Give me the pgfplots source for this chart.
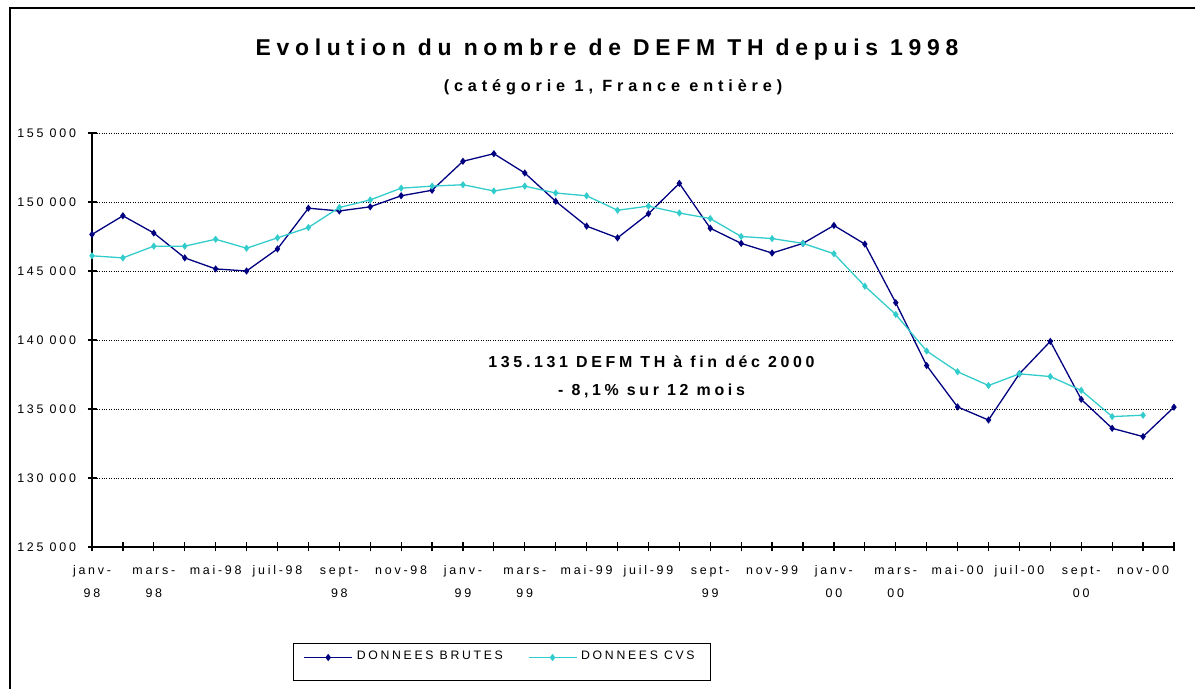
\documentclass[border=0pt]{standalone}
\usepackage{pgfplots}
\pgfplotsset{compat=1.18}
\usepackage{fontspec}
\setmainfont{Liberation Sans}
\newfontfamily\lsp[LetterSpace=22]{Liberation Sans}
\newfontfamily\asp[LetterSpace=23]{Liberation Sans}
\newfontfamily\ssp[LetterSpace=30]{Liberation Sans}
\newfontfamily\tsp[LetterSpace=25]{Liberation Sans}
\newcommand{\ph}{\vphantom{Ij}}
\definecolor{brut}{RGB}{0,0,128}
\definecolor{cvs}{RGB}{51,204,204}
\pgfplotstableread{
x y
0 147650
1 149000
2 147750
3 145950
4 145150
5 145000
6 146600
7 149550
8 149350
9 149650
10 150450
11 150850
12 152950
13 153500
14 152100
15 150050
16 148250
17 147400
18 149150
19 151350
20 148100
21 147000
22 146300
23 147000
24 148300
25 146950
26 142700
27 138150
28 135150
29 134200
30 137550
31 139900
32 135700
33 133600
34 133000
35 135131
}\brutes
\pgfplotstableread{
x y
0 146100
1 145950
2 146800
3 146800
4 147300
5 146650
6 147400
7 148150
8 149600
9 150150
10 151000
11 151150
12 151250
13 150800
14 151150
15 150650
16 150450
17 149400
18 149700
19 149200
20 148800
21 147500
22 147350
23 147000
24 146250
25 143900
26 141850
27 139200
28 137700
29 136700
30 137550
31 137350
32 136350
33 134450
34 134550
}\cvsdata
\begin{document}
\begin{tikzpicture}[x=1bp,y=1bp]
\useasboundingbox (0,0) rectangle (1195,689);
\draw[line width=1.2bp] (10,0) -- (10,681) -- (1195,681);
\node[font=\tsp\bfseries\fontsize{23}{27}\selectfont] at (607,639) {Evolution du nombre de DEFM TH depuis 1998};
\node[font=\ssp\bfseries\fontsize{16.3}{19}\selectfont] at (613,602) {(catégorie 1, France entière)};
\begin{axis}[
  at={(92bp,142bp)}, anchor=south west,
  width=1082bp, height=414bp, scale only axis,
  xmin=0, xmax=35, ymin=125000, ymax=155000,
  clip=false, scaled y ticks=false,
  axis x line*=bottom, axis y line*=left,
  axis line style={line width=1.3bp, black},
  ytick={125000,130000,135000,140000,145000,150000,155000},
  yticklabels={125 000,130 000,135 000,140 000,145 000,150 000,155 000},
  ymajorgrids,
  major grid style={black, line width=0.8bp, dash pattern=on 0.8bp off 1.6bp},
  xtick={0,...,35},
  xticklabels={{\ph janv-\\98},{},{\ph mars-\\98},{},{\ph mai-98},{},{\ph juil-98},{},{\ph sept-\\98},{},{\ph nov-98},{},{\ph janv-\\99},{},{\ph mars-\\99},{},{\ph mai-99},{},{\ph juil-99},{},{\ph sept-\\99},{},{\ph nov-99},{},{\ph janv-\\00},{},{\ph mars-\\00},{},{\ph mai-00},{},{\ph juil-00},{},{\ph sept-\\00},{},{\ph nov-00},{}},
  tick style={black, line width=1.2bp},
  tick align=center, major tick length=9bp,
  yticklabel style={font=\lsp\fontsize{12.5}{14}\selectfont, xshift=-8bp},
  xticklabel style={font=\lsp\fontsize{12.5}{24}\selectfont, align=center, anchor=north, yshift=-10bp},
  legend columns=2,
  legend style={at={(0.1858,-0.2319)}, anchor=north west, draw=black, line width=1bp,
    font=\lsp\fontsize{12.3}{14}\selectfont, inner xsep=10bp, inner ysep=0bp,
    /tikz/every odd column/.append style={column sep=4bp},
    /tikz/every even column/.append style={column sep=25bp},
    nodes={inner sep=0bp, text height=16bp, text depth=21bp}},
  legend image code/.code={\draw[mark repeat=2,mark phase=2,yshift=4.5bp,#1] plot coordinates {(0bp,0bp) (24bp,0bp) (48bp,0bp)};},
]
\addplot[color=brut, line width=1.3bp, mark=diamond*, mark size=2.6bp, mark options={fill=brut, solid}] table {\brutes};
\addlegendentry{DONNEES BRUTES}
\addplot[color=cvs, line width=1.3bp, mark=diamond*, mark size=2.6bp, mark options={fill=cvs, solid}] table {\cvsdata};
\addlegendentry{DONNEES CVS\hspace*{6bp}}
\node[font=\asp\bfseries\fontsize{16}{28}\selectfont, align=center] at (axis cs:18.1,137300) {135.131 DEFM TH à fin déc 2000\\- 8,1\% sur 12 mois};
\end{axis}
\end{tikzpicture}
\end{document}
